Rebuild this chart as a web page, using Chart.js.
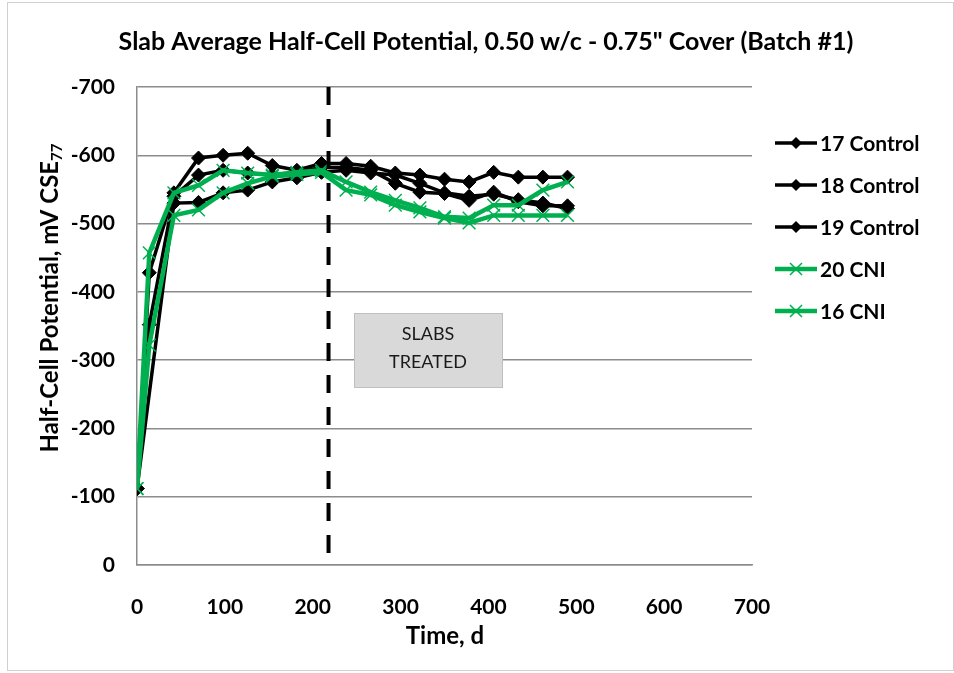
<!DOCTYPE html>
<html>

<head>
    <title>Slab Average Half-Cell Potential</title>
    <script src="https://cdn.jsdelivr.net/npm/chart.js"></script>
    <style>
        body { margin: 0; background: #fff; }
    </style>
</head>

<body>

    <div style="width: 954px; height: 673px;">
        <canvas id="myChart" width="954" height="673"></canvas>
    </div>

    <script>
        // time of each reading, days
        const days = [0, 14, 42, 70, 98, 126, 154, 182, 210, 238, 266, 294, 322, 350, 378, 406, 434, 462, 490];

        // half-cell potential, mV CSE
        const control17 = [-112, -428, -545, -596, -600, -603, -585, -578, -588, -588, -584, -574, -571, -565, -561, -575, -568, -568, -568];
        const control18 = [-112, -352, -540, -571, -578, -574, -571, -575, -582, -582, -578, -559, -546, -544, -534, -546, -532, -526, -526];
        const control19 = [-112, null, -530, -531, -545, -549, -561, -567, -575, -578, -574, -571, -559, -545, -540, -543, -535, -530, -522];
        const cni20 = [-112, -457, -545, -556, -578, -574, -571, -575, -578, -561, -546, -534, -523, -510, -508, -527, -527, -549, -561];
        const cni16 = [-112, -322, -512, -520, -545, -559, -569, -572, -575, -549, -542, -527, -517, -508, -501, -512, -512, -512, -512];

        const seriesNames = ['17 Control', '18 Control', '19 Control', '20 CNI', '16 CNI'];
        const xTicks = [0, 100, 200, 300, 400, 500, 600, 700];
        const yTicks = [0, -100, -200, -300, -400, -500, -600, -700];
        const treatedDay = 218;

        const FONT = 'Lato';
        const GREEN = '#00b050';

        function pts(vals) {
            return days.map((d, i) => ({ x: d, y: vals[i] }));
        }

        function blackSet(label, vals) {
            return {
                label: label, data: pts(vals), order: 1,
                borderColor: '#000', backgroundColor: '#000', borderWidth: 3.5,
                pointStyle: 'rectRot', pointRadius: 7, pointBorderWidth: 1,
                pointBackgroundColor: '#000', pointBorderColor: '#000'
            };
        }

        function greenSet(label, vals) {
            return {
                label: label, data: pts(vals), order: 0,
                borderColor: GREEN, backgroundColor: GREEN, borderWidth: 4.5,
                pointStyle: 'crossRot', pointRadius: 9, pointBorderWidth: 1.5,
                pointBorderColor: GREEN
            };
        }

        // title, axis titles, legend, treatment line and note
        const extras = {
            id: 'extras',
            afterDatasetsDraw(chart) {
                const ctx = chart.ctx;
                const xs = chart.scales.x;
                const area = chart.chartArea;
                const px = xs.getPixelForValue(treatedDay);

                ctx.save();
                ctx.strokeStyle = '#000';
                ctx.lineWidth = 4;
                ctx.setLineDash([18, 14]);
                ctx.beginPath();
                ctx.moveTo(px, area.top);
                ctx.lineTo(px, area.bottom);
                ctx.stroke();
                ctx.restore();

                // text box
                ctx.save();
                ctx.fillStyle = '#d9d9d9';
                ctx.strokeStyle = '#bfbfbf';
                ctx.lineWidth = 1;
                ctx.fillRect(354, 313, 148, 74);
                ctx.strokeRect(354.5, 313.5, 148, 74);
                ctx.fillStyle = '#1a1a1a';
                ctx.font = '18px ' + FONT;
                ctx.textAlign = 'center';
                ctx.textBaseline = 'middle';
                ctx.fillText('SLABS', 428, 334);
                ctx.fillText('TREATED', 428, 362);
                ctx.restore();
            },
            afterDraw(chart) {
                const ctx = chart.ctx;
                const area = chart.chartArea;
                ctx.save();

                // outer frame
                ctx.strokeStyle = '#d0d0d0';
                ctx.lineWidth = 1;
                ctx.strokeRect(7.5, 2.5, 946, 668);

                ctx.fillStyle = '#000';
                ctx.textAlign = 'center';
                ctx.textBaseline = 'middle';
                ctx.font = 'bold 25px ' + FONT;
                ctx.fillText('Slab Average Half-Cell Potential, 0.50 w/c - 0.75" Cover (Batch #1)', 486, 42);

                ctx.font = 'bold 24px ' + FONT;
                ctx.fillText('Time, d', 445, 636);

                // y title with subscript
                ctx.save();
                ctx.translate(50, 298);
                ctx.rotate(-Math.PI / 2);
                const main = 'Half-Cell Potential, mV CSE';
                ctx.font = 'bold 24px ' + FONT;
                const w1 = ctx.measureText(main).width;
                ctx.font = 'bold 15px ' + FONT;
                const w2 = ctx.measureText('77').width;
                const start = -(w1 + w2) / 2;
                ctx.textAlign = 'left';
                ctx.font = 'bold 24px ' + FONT;
                ctx.fillText(main, start, 0);
                ctx.font = 'bold 15px ' + FONT;
                ctx.fillText('77', start + w1, 7);
                ctx.restore();

                // legend
                const rows = [143, 185, 227, 269, 311];
                chart.data.datasets.forEach((ds, i) => {
                    const y = rows[i];
                    ctx.strokeStyle = ds.borderColor;
                    ctx.lineWidth = ds.borderWidth;
                    ctx.beginPath();
                    ctx.moveTo(775, y);
                    ctx.lineTo(817, y);
                    ctx.stroke();
                    if (ds.pointStyle === 'rectRot') {
                        ctx.fillStyle = '#000';
                        ctx.beginPath();
                        ctx.moveTo(796, y - 6);
                        ctx.lineTo(802, y);
                        ctx.lineTo(796, y + 6);
                        ctx.lineTo(790, y);
                        ctx.closePath();
                        ctx.fill();
                    } else {
                        ctx.lineWidth = 1.5;
                        ctx.beginPath();
                        ctx.moveTo(790, y - 6);
                        ctx.lineTo(802, y + 6);
                        ctx.moveTo(790, y + 6);
                        ctx.lineTo(802, y - 6);
                        ctx.stroke();
                    }
                    ctx.fillStyle = '#000';
                    ctx.font = 'bold 21px ' + FONT;
                    ctx.textAlign = 'left';
                    ctx.fillText(ds.label, 820, y + 1);
                });

                ctx.restore();
            }
        };

        const ctx = document.getElementById('myChart').getContext('2d');

        const myChart = new Chart(ctx, {
            type: 'line',
            data: {
                datasets: [
                    blackSet(seriesNames[0], control17),
                    blackSet(seriesNames[1], control18),
                    blackSet(seriesNames[2], control19),
                    greenSet(seriesNames[3], cni20),
                    greenSet(seriesNames[4], cni16)
                ]
            },
            options: {
                responsive: false,
                animation: false,
                spanGaps: true,
                layout: { padding: { left: 0, right: 202, top: 87, bottom: 0 } },
                plugins: {
                    legend: { display: false },
                    title: { display: false },
                    tooltip: { enabled: false }
                },
                scales: {
                    x: {
                        type: 'linear',
                        min: 0, max: 700,
                        afterBuildTicks: (s) => { s.ticks = xTicks.map(v => ({ value: v })); },
                        afterFit: (s) => { s.height = 108; },
                        grid: { display: false },
                        border: { display: true, color: '#8c8c8c', width: 1.5 },
                        ticks: {
                            color: '#000', padding: 22,
                            font: { family: FONT, size: 21, weight: 'bold' },
                            maxRotation: 0
                        }
                    },
                    y: {
                        min: -700, max: 0,
                        reverse: true,
                        afterBuildTicks: (s) => { s.ticks = yTicks.map(v => ({ value: v })); },
                        afterFit: (s) => { s.width = 137; },
                        grid: { color: '#8c8c8c', lineWidth: 1.5, drawTicks: false },
                        border: { display: true, color: '#8c8c8c', width: 1.5 },
                        ticks: {
                            color: '#000', padding: 22,
                            font: { family: FONT, size: 21, weight: 'bold' }
                        }
                    }
                }
            },
            plugins: [extras]
        });
    </script>

</body>

</html>
